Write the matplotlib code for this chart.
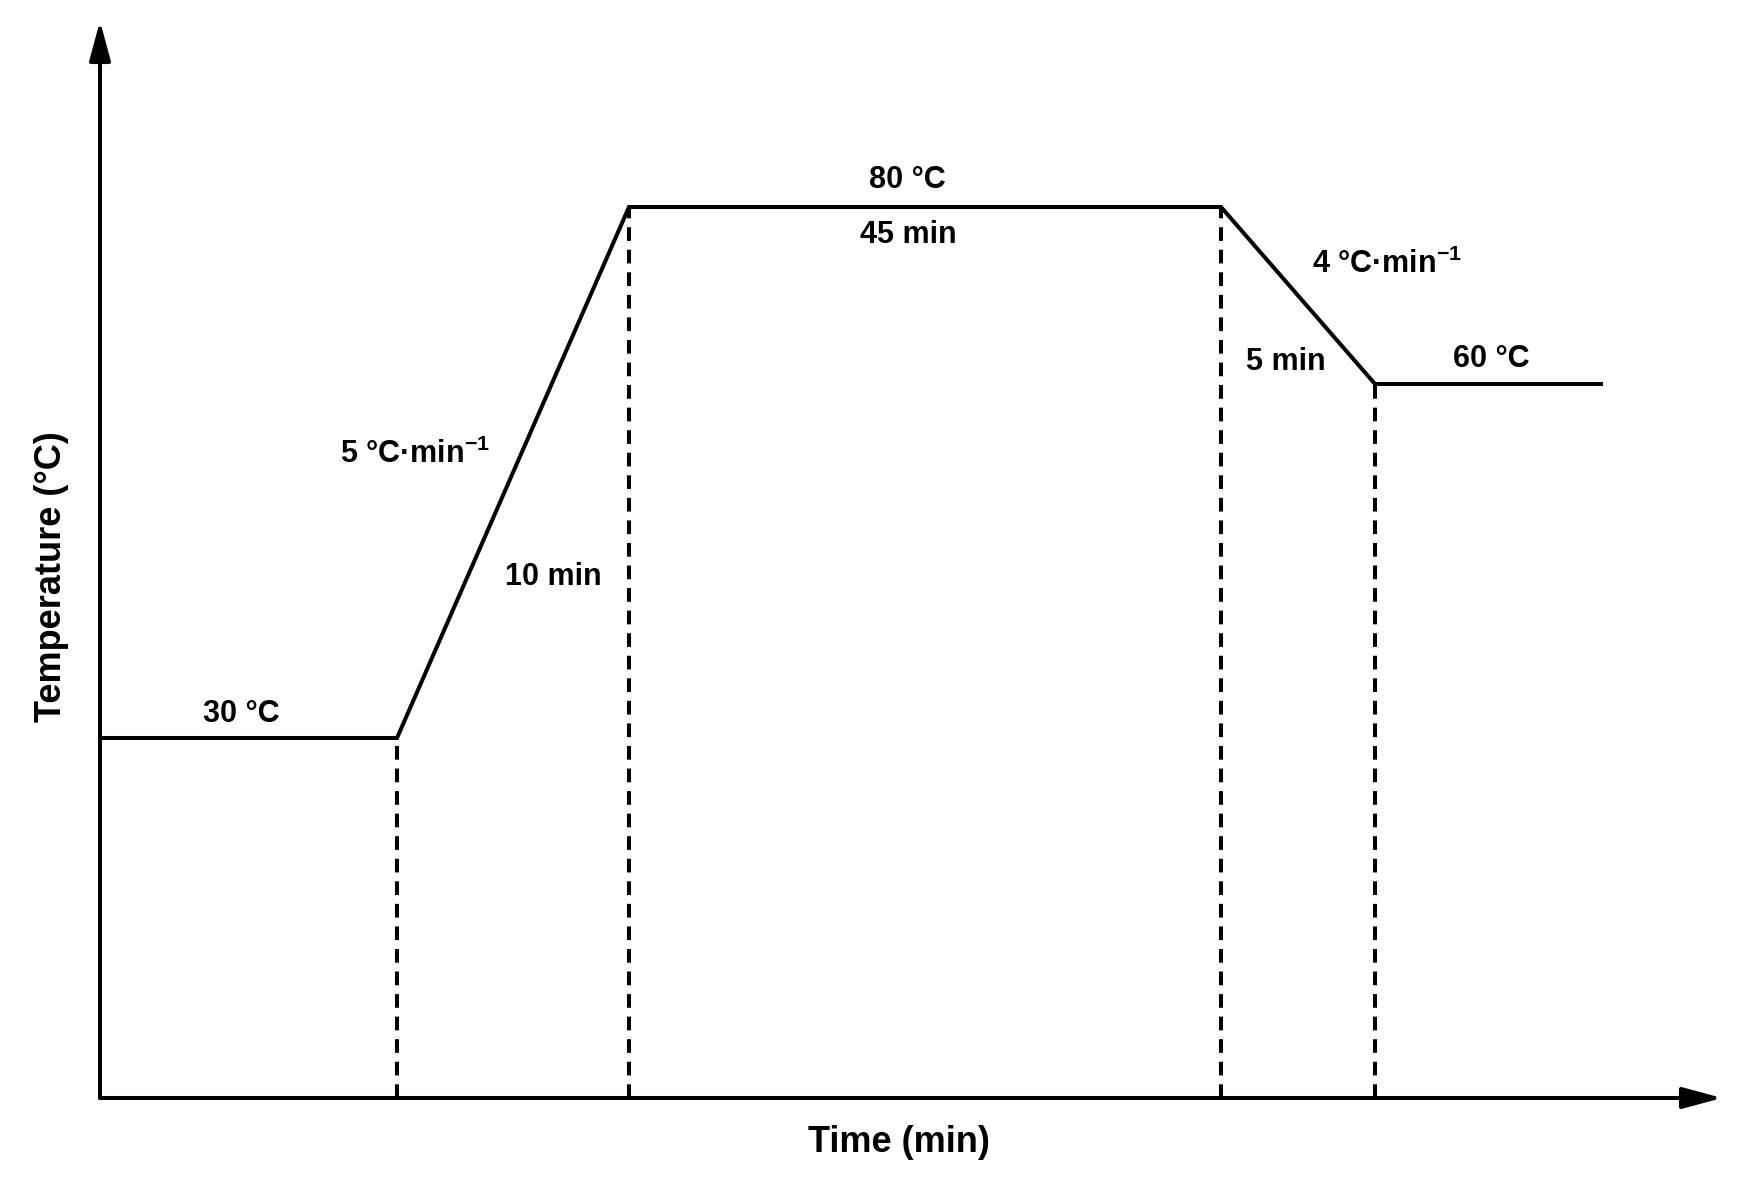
import matplotlib.pyplot as plt

plt.rcParams['font.family'] = ['Liberation Sans', 'DejaVu Sans']
plt.rcParams['font.weight'] = 'bold'
plt.rcParams['mathtext.fontset'] = 'custom'
plt.rcParams['mathtext.rm'] = 'Liberation Sans:bold'
plt.rcParams['mathtext.it'] = 'Liberation Sans:bold'
plt.rcParams['mathtext.bf'] = 'Liberation Sans:bold'
plt.rcParams['mathtext.default'] = 'rm'

# schematic profile: time breakpoints and heights (arbitrary units)
time_pts = [0, 29.7, 52.9, 112.1, 127.5, 150.1]
levels = [36.0, 36.0, 89.1, 89.1, 71.4, 71.4]
dash_idx = [1, 2, 3, 4]

# labels: (text, x, y)
level_labels = [("30 °C", 14.1, 38.4), ("80 °C", 80.7, 91.8), ("60 °C", 139.1, 73.9)]
time_labels = [("10 min", 45.3, 52.1), ("45 min", 80.8, 86.3), ("5 min", 118.6, 73.6)]
rate_labels = [(r"5 °C·min$^{-1}$", 31.5, 63.5), (r"4 °C·min$^{-1}$", 128.7, 82.5)]

fig = plt.figure(figsize=(17.39, 11.80), dpi=100)
ax = fig.add_axes([0, 0, 1, 1])
ax.set_xlim(-10, 163.9)
ax.set_ylim(-8.2, 109.8)
ax.axis('off')

lw = 2.9
ax.plot(time_pts, levels, color='black', lw=lw, solid_joinstyle='miter')
for i in dash_idx:
    ax.plot([time_pts[i], time_pts[i]], [0, levels[i]], color='black', lw=lw,
            linestyle=(0, (3.4, 2.2)))

# axes with arrow heads
arrow = dict(arrowstyle='-|>,head_length=2.4,head_width=0.65', color='black',
             lw=lw, shrinkA=0, shrinkB=0, mutation_scale=10)
ax.annotate('', xy=(162.2, 0), xytext=(0, 0), arrowprops=arrow)
ax.annotate('', xy=(0, 107.7), xytext=(0, 0), arrowprops=arrow)

for t, x, y in level_labels + time_labels:
    ax.text(x, y, t, fontsize=22, ha='center', va='center')
for t, x, y in rate_labels:
    ax.text(x, y, t, fontsize=22, ha='center', va='baseline')

ax.text(79.9, -4.4, "Time (min)", fontsize=26, ha='center', va='center')
ax.text(-4.8, 52.1, "Temperature (°C)", fontsize=26, ha='center', va='center',
        rotation=90)

fig.savefig("out.png", dpi=100)
